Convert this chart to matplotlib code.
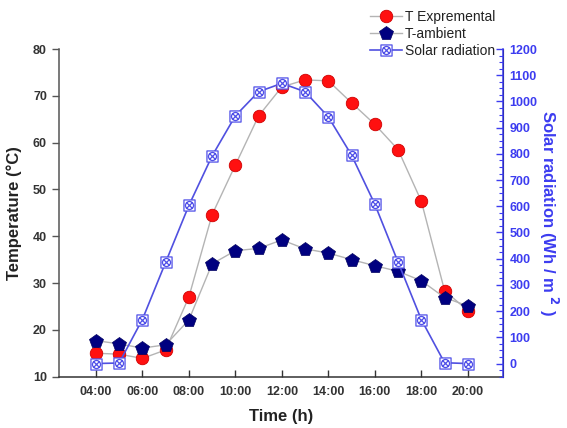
import matplotlib
matplotlib.use("Agg")
import matplotlib.pyplot as plt
from matplotlib.path import Path
from matplotlib.ticker import AutoMinorLocator, MultipleLocator

plt.rcParams["font.family"] = ["Liberation Sans", "DejaVu Sans"]

# data
hours = [4, 5, 6, 7, 8, 9, 10, 11, 12, 13, 14, 15, 16, 17, 18, 19, 20]
t_exp = [15.0, 14.8, 13.9, 15.7, 27.0, 44.6, 55.2, 65.7, 71.9, 73.4, 73.2,
         68.5, 63.9, 58.5, 47.5, 28.4, 24.1]
t_amb = [17.7, 17.0, 16.1, 16.8, 22.1, 34.1, 36.9, 37.4, 39.2, 37.3, 36.4,
         35.0, 33.7, 32.5, 30.5, 26.9, 25.1]
solar = [0, 2, 168, 386, 603, 792, 945, 1037, 1069, 1037, 941,
         795, 608, 387, 168, 3, 0]
xtick_pos = [4, 6, 8, 10, 12, 14, 16, 18, 20]
xtick_lab = ["04:00", "06:00", "08:00", "10:00", "12:00", "14:00", "16:00", "18:00", "20:00"]
series_names = ["T Expremental", "T-ambient", "Solar radiation"]

BLUE = "#3c3cf0"
DARK = "#333333"

# boxed-cross marker (square + circle + X)
sq = Path([(-1, -1), (1, -1), (1, 1), (-1, 1), (-1, -1)],
          [Path.MOVETO, Path.LINETO, Path.LINETO, Path.LINETO, Path.CLOSEPOLY])
circ = Path.circle((0, 0), 0.72)
d1 = Path([(-0.51, -0.51), (0.51, 0.51)])
d2 = Path([(-0.51, 0.51), (0.51, -0.51)])
boxx = Path.make_compound_path(sq, circ, d1, d2)

fig = plt.figure(figsize=(5.67, 4.28), dpi=100)
ax = fig.add_axes([0.1035, 0.12, 0.783, 0.7655])
ax2 = ax.twinx()

l1, = ax.plot(hours, t_exp, color="#b4b4b4", lw=1.0, marker="o", ms=9,
              mfc="#ff1010", mec="#d00000", mew=0.6, zorder=3)
l2, = ax.plot(hours, t_amb, color="#b4b4b4", lw=1.0, marker="p", ms=10.5,
              mfc="#000080", mec="#000060", mew=0.5, zorder=3)
l3, = ax2.plot(hours, solar, color="#5050e0", lw=1.2, marker=boxx, ms=8,
               mfc="white", mec="#5050e8", mew=0.9)

ax.set_xlim(2.4, 21.5)
ax.set_ylim(10, 80)
ax2.set_ylim(-50, 1200)

ax.set_xticks(xtick_pos)
ax.set_xticklabels(xtick_lab)
ax.yaxis.set_major_locator(MultipleLocator(10))
ax2.yaxis.set_minor_locator(AutoMinorLocator(4))
ax2.set_yticks(range(0, 1201, 100))

for a in (ax, ax2):
    a.spines["top"].set_visible(False)
ax.spines["left"].set_color("#555555")
ax.spines["bottom"].set_color("#333333")
ax.spines["left"].set_linewidth(1.1)
ax.spines["bottom"].set_linewidth(1.1)
ax2.spines["right"].set_color(BLUE)
ax2.spines["right"].set_linewidth(1.1)
ax2.spines["left"].set_visible(False)
ax2.spines["bottom"].set_visible(False)

ax.tick_params(axis="x", direction="in", length=5, width=1, colors="#333333",
               labelsize=9, pad=7)
ax.tick_params(axis="y", direction="out", length=5, width=1, colors="#555555",
               labelcolor=DARK, labelsize=9)
ax2.tick_params(axis="y", which="major", direction="in", length=5, width=1,
                colors=BLUE, labelsize=9, pad=5)
ax2.tick_params(axis="y", which="minor", direction="in", length=3, width=0.8, colors=BLUE)
for lab in ax.get_xticklabels() + ax.get_yticklabels() + ax2.get_yticklabels():
    lab.set_fontweight("bold")

ax.set_xlabel("Time (h)", fontsize=12, fontweight="bold", color="#222222", labelpad=8)
ax.set_ylabel("Temperature (\u00b0C)", fontsize=12, fontweight="bold", color="#222222", labelpad=8)
ax2.set_ylabel(r"Solar radiation (Wh / m $^\mathbf{2}$ )", fontsize=12, fontweight="bold",
               color=BLUE, rotation=270, labelpad=16)

fig.legend([l1, l2, l3], series_names,
           loc="upper left", bbox_to_anchor=(0.645, 0.986), frameon=False,
           borderaxespad=0, borderpad=0.3, labelspacing=0.2, handlelength=2.3,
           handletextpad=0.2, fontsize=10, labelcolor="#222222")

fig.savefig("out.png", dpi=100)
